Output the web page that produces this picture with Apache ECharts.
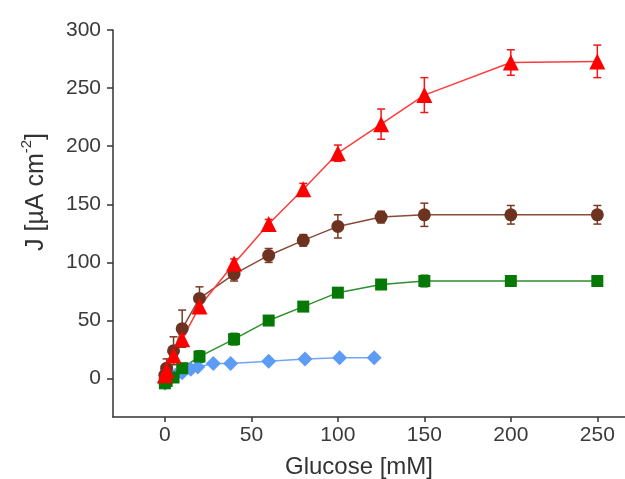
<!DOCTYPE html>
<html>
<head>
<meta charset="utf-8">
<script src="https://cdn.jsdelivr.net/npm/echarts@6/dist/echarts.min.js"></script>
<style>html,body{margin:0;padding:0;background:#fff;}#c{width:625px;height:479px;}</style>
</head>
<body>
<div id="c"></div>
<script>
// ---- data ----
var xTicks = [0, 50, 100, 150, 200, 250];
var yTicks = [0, 50, 100, 150, 200, 250, 300];

var redX   = [0, 1, 5, 10, 20, 40, 60, 80, 100, 125, 150, 200, 250];
var redY   = [3, 7, 20, 34, 62, 99, 133, 163, 194, 219, 244, 272, 273];
var redErr = [3, 3, 4, 4, 4, 4, 4, 5, 7, 13, 15, 11, 14];

var brownX   = [0, 1, 5, 10, 20, 40, 60, 80, 100, 125, 150, 200, 250];
var brownY   = [3, 9, 24, 43, 69, 90, 106, 119, 131, 139, 141, 141, 141];
var brownErr = [8, 8, 12, 16, 10, 6, 6, 5, 10, 5, 10, 8, 8];

var greenX   = [0, 1, 5, 10, 20, 40, 60, 80, 100, 125, 150, 200, 250];
var greenY   = [-4, -2, 1, 9, 19, 34, 50, 62, 74, 81, 84, 84, 84];
var greenErr = [0, 0, 2, 2, 5, 5, 2, 2, 2, 2, 5, 2, 3];

var blueX = [0, 3, 6, 10, 15, 19, 28, 38, 60, 81, 101, 121];
var blueY = [-4, 0, 3, 5, 8, 10, 13, 13, 15, 17, 18, 18];

// ---- chart ----
var chart = echarts.init(document.getElementById('c'), null, {renderer: 'canvas'});
var FONT = '"Liberation Sans", Arial, sans-serif';

function pts(xs, ys) { return xs.map(function (v, i) { return [v, ys[i]]; }); }
function errPts(xs, ys, es) {
  var out = [];
  xs.forEach(function (v, i) { if (es[i] > 0) out.push([v, ys[i], es[i]]); });
  return out;
}
function errSeries(xs, ys, es, color) {
  return {
    type: 'custom',
    data: errPts(xs, ys, es),
    encode: {x: 0, y: 1},
    silent: true,
    renderItem: function (params, api) {
      var x = api.value(0), y = api.value(1), e = api.value(2);
      var t = api.coord([x, y + e]);
      var b = api.coord([x, y - e]);
      var w = 4;
      var st = {stroke: color, lineWidth: 1.5};
      return {
        type: 'group',
        children: [
          {type: 'line', shape: {x1: t[0], y1: t[1], x2: b[0], y2: b[1]}, style: st},
          {type: 'line', shape: {x1: t[0] - w, y1: t[1], x2: t[0] + w, y2: t[1]}, style: st},
          {type: 'line', shape: {x1: b[0] - w, y1: b[1], x2: b[0] + w, y2: b[1]}, style: st}
        ]
      };
    }
  };
}
function lineSeries(xs, ys, symbol, size, color, lineColor) {
  return {
    type: 'line',
    data: pts(xs, ys),
    symbol: symbol,
    symbolSize: size,
    showAllSymbol: true,
    itemStyle: {color: color, opacity: 1},
    lineStyle: {color: lineColor, width: 1.5},
    emphasis: {disabled: true}
  };
}

var option = {
  animation: false,
  backgroundColor: '#fff',
  grid: {left: 113, top: 30, right: 0, bottom: 62, containLabel: false},
  xAxis: {
    type: 'value',
    min: -30, max: 266,
    splitLine: {show: false},
    axisLine: {show: true, onZero: false, lineStyle: {color: '#333', width: 1.5}},
    axisTick: {show: true, length: 5, lineStyle: {color: '#333', width: 1.5}, customValues: xTicks},
    axisLabel: {customValues: xTicks, fontSize: 21, fontFamily: FONT, color: '#3a3a3a', margin: 8}
  },
  yAxis: {
    type: 'value',
    min: -33, max: 300,
    splitLine: {show: false},
    axisLine: {show: true, onZero: false, lineStyle: {color: '#333', width: 1.5}},
    axisTick: {show: true, length: 6, lineStyle: {color: '#333', width: 1.5}, customValues: yTicks},
    axisLabel: {customValues: yTicks, fontSize: 21, fontFamily: FONT, color: '#3a3a3a', margin: 12}
  },
  graphic: [
    {
      type: 'text', x: 359, y: 467,
      style: {text: 'Glucose [mM]', font: '24px ' + FONT, fill: '#333', align: 'center', verticalAlign: 'middle'}
    },
    {
      type: 'text', x: 34, y: 192, rotation: Math.PI / 2,
      style: {
        text: '{a|J [µA cm}{s|-2}{a|]}',
        align: 'center', verticalAlign: 'middle',
        rich: {
          a: {fontSize: 25, fontFamily: FONT, fill: '#333', color: '#333', verticalAlign: 'bottom', lineHeight: 30},
          s: {fontSize: 15, fontFamily: FONT, fill: '#333', color: '#333', verticalAlign: 'top', lineHeight: 30}
        }
      }
    }
  ],
  series: [
    lineSeries(blueX, blueY, 'diamond', 15, '#5d9cf6', '#6fa7f6'),
    errSeries(greenX, greenY, greenErr, '#1a7f1a'),
    lineSeries(greenX, greenY, 'rect', 12, '#067806', '#2d8f2d'),
    errSeries(brownX, brownY, brownErr, '#7a3a26'),
    lineSeries(brownX, brownY, 'circle', 13, '#6e3320', '#8a4a38'),
    errSeries(redX, redY, redErr, '#f01818'),
    lineSeries(redX, redY, 'triangle', 16, '#ff0000', '#ff3b3b')
  ]
};
chart.setOption(option);
</script>
</body>
</html>
